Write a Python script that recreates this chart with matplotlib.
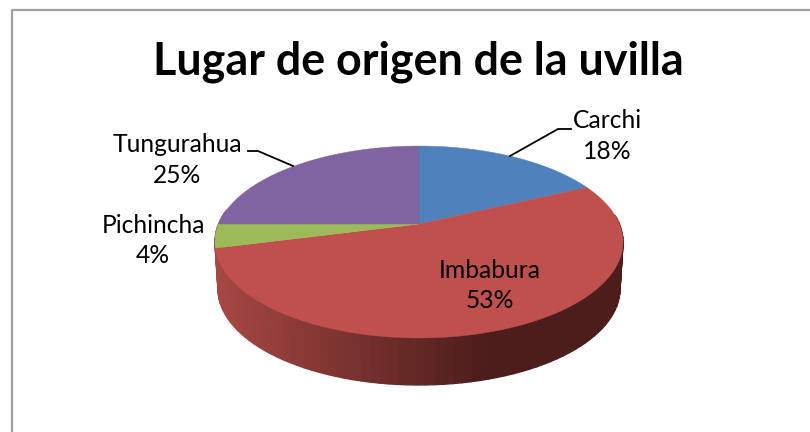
import numpy as np
import matplotlib
matplotlib.use('Agg')
import matplotlib.pyplot as plt

categorias = ['Carchi', 'Imbabura', 'Pichincha', 'Tungurahua']
valores = [18, 53, 4, 25]
colores = ['#4F81BD', '#C0504D', '#9BBB59', '#8064A2']

W, H = 810, 432
plt.rcParams['font.family'] = ['Lato', 'DejaVu Sans']

fig = plt.figure(figsize=(W / 100, H / 100), dpi=100, facecolor='white')
ax = fig.add_axes([0, 0, 1, 1])
ax.set_xlim(0, W)
ax.set_ylim(H, 0)
ax.axis('off')

# centro de la torta y proyeccion en perspectiva del circulo
cx, cy = 419, 224
A, B, p = 200.4, 92.6, 0.1875
alto = 47
angosto = 0.985  # la base se ve un poco mas angosta


def proyectar(ang):
    u, v = np.sin(ang), np.cos(ang)
    w = 1 + p * v
    return cx + A * u / w, cy - B * v / w


# pared lateral con degradado, solo la parte de adelante
angs = np.linspace(np.pi * 0.47, np.pi * 1.55, 90)
for a0, a1 in zip(angs[:-1], angs[1:]):
    x0, y0 = proyectar(a0)
    x1, y1 = proyectar(a1)
    xb0 = cx + (x0 - cx) * angosto
    xb1 = cx + (x1 - cx) * angosto
    t = np.clip(((x0 + x1) / 2 - 218) / (485 - 218), 0, 1)
    c = (np.array([0xA6, 0x47, 0x43]) * (1 - t) + np.array([0x4C, 0x1D, 0x1B]) * t) / 255
    ax.fill([x0, x1, xb1, xb0], [y0, y1, y1 + alto, y0 + alto], facecolor=c, edgecolor=c, lw=1.0, zorder=1)

# cara de arriba
acum = np.cumsum([0] + valores) / sum(valores) * 2 * np.pi
for i in range(len(valores)):
    t = np.linspace(acum[i], acum[i + 1], 120)
    x, y = proyectar(t)
    ax.fill(np.r_[cx, x], np.r_[cy, y], color=colores[i], lw=0.3, zorder=2)

# marco
ax.plot([11.5, 11.5, 810], [432, 9.5, 9.5], color='#A0A0A0', lw=1.6, zorder=0)

ax.text(418, 62, 'Lugar de origen de la uvilla', fontsize=32.3, fontweight='bold', ha='center', va='center', color='black')

etiquetas = [(607.5, 136), (490, 285.5), (153, 240.5), (177.5, 160)]
for (x, y), n, v in zip(etiquetas, categorias, valores):
    ax.text(x, y, f'{n}\n{v}%', fontsize=17.7, ha='center', va='center', color='black', linespacing=1.42, zorder=3)

# lineas guia
ax.plot([510, 558, 571], [156, 129, 129], color='black', lw=1.3, zorder=3)
ax.plot([293, 258, 248], [166, 151, 151], color='black', lw=1.3, zorder=3)

fig.savefig('out.png', dpi=100)
